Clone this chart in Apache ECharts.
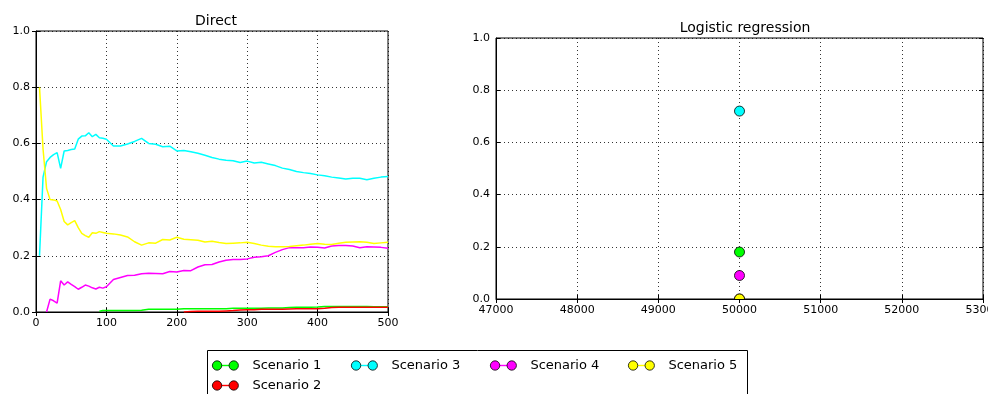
<!DOCTYPE html>
<html>
<head>
<meta charset="utf-8">
<script src="https://cdn.jsdelivr.net/npm/echarts@6/dist/echarts.min.js"></script>
<style>
  html, body { margin: 0; padding: 0; background: #fff; }
  #chart { width: 988px; height: 394px; }
</style>
</head>
<body>
<div id="chart"></div>
<script>
// x positions of the "Direct" curves (step 5 up to 100, then step 10)
var xs = [5, 10, 15, 20, 25, 30, 35, 40, 45, 50, 55, 60, 65, 70, 75, 80, 85, 90, 95, 100,
    110, 120, 130, 140, 150, 160, 170, 180, 190, 200, 210, 220, 230, 240, 250, 260, 270, 280, 290, 300,
    310, 320, 330, 340, 350, 360, 370, 380, 390, 400, 410, 420, 430, 440, 450, 460, 470, 480, 490, 500];

var scenario1 = [null, null, null, null, null, null, null, null, null, null, null, null, null, null, null, null, null, 0.003, 0.005, 0.005,
    0.005, 0.005, 0.005, 0.005, 0.006, 0.01, 0.01, 0.01, 0.01, 0.01, 0.012, 0.012, 0.012, 0.012, 0.012, 0.012, 0.012, 0.013, 0.013, 0.013,
    0.013, 0.013, 0.014, 0.014, 0.014, 0.016, 0.017, 0.017, 0.017, 0.018, 0.02, 0.02, 0.02, 0.02, 0.02, 0.02, 0.02, 0.019, 0.019, 0.019];
var scenario2 = [null, null, null, null, null, null, null, null, null, null, null, null, null, null, null, null, null, null, null, null,
    null, null, null, null, null, null, null, null, null, null, 0.0, 0.002, 0.003, 0.003, 0.003, 0.003, 0.004, 0.005, 0.007, 0.008,
    0.008, 0.01, 0.01, 0.01, 0.01, 0.011, 0.012, 0.012, 0.012, 0.012, 0.013, 0.016, 0.017, 0.017, 0.017, 0.017, 0.017, 0.017, 0.017, 0.017];
var scenario3 = [0.2, 0.48, 0.535, 0.55, 0.56, 0.567, 0.511, 0.573, 0.575, 0.578, 0.58, 0.615, 0.626, 0.627, 0.638, 0.624, 0.632, 0.62, 0.618, 0.615,
    0.591, 0.591, 0.598, 0.607, 0.618, 0.6, 0.597, 0.588, 0.59, 0.573, 0.575, 0.57, 0.565, 0.558, 0.55, 0.544, 0.54, 0.538, 0.532, 0.537,
    0.53, 0.533, 0.527, 0.521, 0.512, 0.507, 0.5, 0.496, 0.493, 0.488, 0.485, 0.48, 0.477, 0.473, 0.476, 0.476, 0.471, 0.476, 0.48, 0.482];
var scenario4 = [null, null, 0.0, 0.046, 0.04, 0.032, 0.111, 0.096, 0.107, 0.098, 0.09, 0.081, 0.088, 0.096, 0.092, 0.086, 0.082, 0.088, 0.085, 0.09,
    0.116, 0.123, 0.13, 0.131, 0.136, 0.138, 0.137, 0.136, 0.144, 0.142, 0.148, 0.147, 0.16, 0.168, 0.169, 0.178, 0.184, 0.187, 0.187, 0.189,
    0.195, 0.197, 0.2, 0.212, 0.222, 0.229, 0.229, 0.229, 0.231, 0.23, 0.228, 0.235, 0.237, 0.237, 0.235, 0.229, 0.232, 0.231, 0.23, 0.227];
var scenario5 = [0.8, 0.58, 0.44, 0.4, 0.399, 0.395, 0.365, 0.322, 0.31, 0.318, 0.325, 0.3, 0.28, 0.272, 0.266, 0.282, 0.28, 0.286, 0.283, 0.28,
    0.278, 0.274, 0.267, 0.25, 0.238, 0.246, 0.245, 0.258, 0.256, 0.266, 0.259, 0.257, 0.255, 0.249, 0.252, 0.247, 0.244, 0.245, 0.246, 0.248,
    0.244, 0.238, 0.234, 0.232, 0.232, 0.233, 0.236, 0.238, 0.241, 0.244, 0.241, 0.24, 0.245, 0.248, 0.249, 0.25, 0.248, 0.244, 0.246, 0.248];

// logistic regression result, one point per scenario
var logX = 50000;
var logValues = [0.18, 0.0, 0.72, 0.09, 0.0];

var names = ['Scenario 1', 'Scenario 2', 'Scenario 3', 'Scenario 4', 'Scenario 5'];
var colors = ['#00ff00', '#ff0000', '#00ffff', '#ff00ff', '#ffff00'];
var direct = [scenario1, scenario2, scenario3, scenario4, scenario5];

// legend slots: matplotlib ncol=4 column-major layout
var legendPos = [[212, 359], [212, 379], [351, 359], [490, 359], [628, 359]];

var FONT = 'DejaVu Sans';
var chart = echarts.init(document.getElementById('chart'), null, {renderer: 'canvas'});

function fmt1(v) { return v.toFixed(1); }

var gridLine = {show: true, lineStyle: {color: '#000', type: [1, 3], width: 0.8}};
var axisLine = {show: true, onZero: false, lineStyle: {color: '#000', width: 1}};
var tick = {show: true, inside: true, length: 4, lineStyle: {color: '#000'}};
var label = {color: '#000', fontSize: 11, fontFamily: FONT, margin: 6};

function mainAxis(gridIndex, pos, min, max, interval, formatter) {
    return {
        type: 'value', gridIndex: gridIndex, position: pos, min: min, max: max, interval: interval,
        axisLine: axisLine, axisTick: tick, splitLine: gridLine,
        axisLabel: Object.assign({formatter: formatter}, label)
    };
}
function mirrorAxis(gridIndex, pos, min, max, interval) {
    return {
        type: 'value', gridIndex: gridIndex, position: pos, min: min, max: max, interval: interval,
        axisLine: {show: false}, axisTick: tick, splitLine: {show: false}, axisLabel: {show: false}
    };
}

var series = [];
// markers first so the legend takes their style; custom series so they clip at the frame
names.forEach(function(n, i) {
    series.push({
        name: n, type: 'custom', xAxisIndex: 2, yAxisIndex: 2,
        clip: true,
        encode: {x: 0, y: 1},
        itemStyle: {color: colors[i]},
        data: [[logX, logValues[i]]],
        renderItem: function(params, api) {
            var p = api.coord([api.value(0), api.value(1)]);
            var cs = params.coordSys;
            return {
                type: 'group',
                clipPath: {type: 'rect', shape: {x: cs.x, y: cs.y, width: cs.width, height: cs.height}},
                children: [{
                    type: 'circle',
                    shape: {cx: p[0], cy: p[1], r: 5},
                    style: {fill: colors[i], stroke: '#000', lineWidth: 0.8}
                }]
            };
        },
        z: 3 + i
    });
});
names.forEach(function(n, i) {
    series.push({
        name: n, type: 'line', xAxisIndex: 0, yAxisIndex: 0,
        showSymbol: false, symbol: 'none',
        lineStyle: {color: colors[i], width: 1.5},
        itemStyle: {color: colors[i]},
        data: xs.map(function(x, k) { return [x, direct[i][k]]; }).filter(function(p) { return p[1] !== null; }),
        z: 3 + i
    });
});

var iconLine = 'path://M0,4.3 L26,4.3 L26,5.7 L0,5.7 Z';
var iconDots = 'path://M0.5,5 A4.5,4.5 0 1,0 9.5,5 A4.5,4.5 0 1,0 0.5,5 Z M16.5,5 A4.5,4.5 0 1,0 25.5,5 A4.5,4.5 0 1,0 16.5,5 Z';

var legends = [];
names.forEach(function(n, i) {
    var base = {
        left: legendPos[i][0], top: legendPos[i][1], padding: 0,
        itemWidth: 26, itemHeight: 10, selectedMode: false,
        data: [n]
    };
    legends.push(Object.assign({}, base, {
        icon: iconLine,
        itemStyle: {color: colors[i], borderWidth: 0},
        textStyle: {color: 'rgba(0,0,0,0)', fontSize: 13, fontFamily: FONT, padding: [0, 0, 0, 9]}
    }));
    legends.push(Object.assign({}, base, {
        icon: iconDots,
        itemStyle: {color: colors[i], borderColor: '#000', borderWidth: 0.8},
        textStyle: {color: '#000', fontSize: 13, fontFamily: FONT, padding: [0, 0, 0, 9]}
    }));
});

var option = {
    backgroundColor: '#fff',
    animation: false,
    title: [
        {text: 'Direct', left: 211, top: 9, textAlign: 'center',
            textStyle: {fontSize: 14, fontWeight: 'normal', color: '#000', fontFamily: FONT}},
        {text: 'Logistic regression', left: 740, top: 16, textAlign: 'center',
            textStyle: {fontSize: 14, fontWeight: 'normal', color: '#000', fontFamily: FONT}}
    ],
    grid: [
        {left: 36, top: 31, width: 352, height: 281, show: true, borderColor: '#000', borderWidth: 1,
            outerBoundsMode: 'none', containLabel: false},
        {left: 496, top: 38, width: 487, height: 261, show: true, borderColor: '#000', borderWidth: 1,
            outerBoundsMode: 'none', containLabel: false}
    ],
    xAxis: [
        mainAxis(0, 'bottom', 0, 500, 100, function(v) { return String(v); }),
        mirrorAxis(0, 'top', 0, 500, 100),
        mainAxis(1, 'bottom', 47000, 53000, 1000, function(v) { return String(v); }),
        mirrorAxis(1, 'top', 47000, 53000, 1000)
    ],
    yAxis: [
        mainAxis(0, 'left', 0, 1, 0.2, fmt1),
        mirrorAxis(0, 'right', 0, 1, 0.2),
        mainAxis(1, 'left', 0, 1, 0.2, fmt1),
        mirrorAxis(1, 'right', 0, 1, 0.2)
    ],
    legend: legends,
    graphic: [{
        type: 'rect', z: -1,
        shape: {x: 207.5, y: 350.5, width: 540, height: 60},
        style: {fill: '#fff', stroke: '#000', lineWidth: 1}
    }],
    series: series
};
chart.setOption(option);
</script>
</body>
</html>
